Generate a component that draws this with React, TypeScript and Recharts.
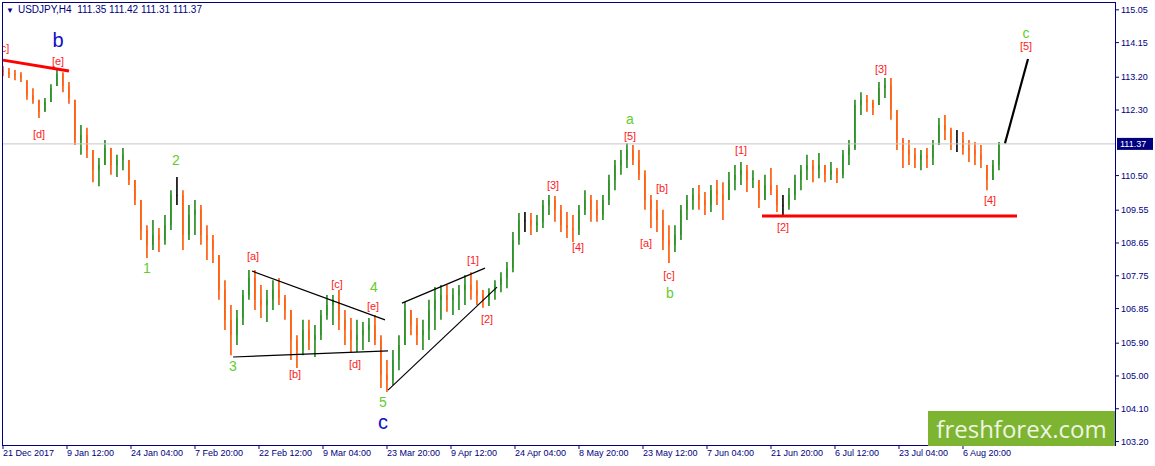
import { ComposedChart, Bar, Scatter, XAxis, YAxis, ReferenceLine } from 'recharts'

const NAVY = '#000080'
const UP = '#1f8a1a'
const DOWN = '#ff5500'
const RED = '#ff1a1a'
const GREEN = '#66cc2e'
const BLUE = '#1010c8'
const FONT = '"Liberation Sans", Arial, sans-serif'

// one point per trading day (6 H4 bars)
const highs = [
  113.51, 113.45, 113.40, 113.34, 113.12, 112.90, 112.58, 112.63, 113.01, 113.40,
  113.34, 113.07, 112.58, 111.89, 111.81, 111.20, 110.98, 111.48, 111.26, 111.07,
  111.26, 110.93, 110.38, 109.83, 109.14, 109.28, 109.06, 109.42, 110.10, 110.46,
  110.10, 109.69, 109.83, 109.69, 109.14, 108.87, 108.32, 107.63, 106.95, 106.81,
  107.36, 107.91, 107.91, 107.50, 107.36, 107.63, 107.69, 107.22, 106.81, 106.12,
  106.54, 106.54, 106.40, 106.81, 107.22, 107.22, 107.36, 106.81, 106.59, 106.54,
  106.48, 106.59, 106.67, 106.12, 105.44, 105.71, 106.12, 107.03, 106.81, 106.59,
  106.54, 107.09, 107.44, 107.50, 107.50, 107.41, 107.50, 107.77, 107.85, 107.63,
  107.36, 107.41, 107.63, 107.85, 108.13, 108.95, 109.47, 109.50, 109.47, 109.42,
  109.83, 109.97, 109.94, 109.69, 109.50, 109.42, 109.69, 110.10, 109.97, 109.83,
  109.97, 110.52, 110.93, 111.20, 111.39, 111.34, 111.20, 110.65, 109.97, 109.83,
  109.56, 109.14, 109.14, 109.69, 109.97, 110.16, 110.24, 110.05, 110.24, 110.38,
  110.32, 110.60, 110.79, 110.87, 110.79, 110.65, 110.38, 110.52, 110.71, 110.24,
  109.97, 110.16, 110.52, 110.79, 111.07, 110.93, 111.12, 110.79, 110.87, 110.71,
  111.20, 111.48, 112.58, 112.79, 112.71, 112.58, 113.07, 113.18, 113.18, 112.30,
  111.53, 111.48, 111.26, 111.20, 111.26, 111.48, 112.08, 112.16, 111.81, 111.75,
  111.70, 111.48, 111.42, 111.34, 110.79, 110.93, 111.42,
]

const lows = [
  113.23, 113.18, 113.12, 113.07, 112.58, 112.47, 112.08, 112.25, 112.52, 112.96,
  112.79, 112.47, 111.34, 111.07, 110.98, 110.32, 110.21, 110.79, 110.52, 110.46,
  110.65, 110.24, 109.69, 108.73, 108.24, 108.46, 108.40, 108.60, 109.01, 109.69,
  108.46, 108.73, 108.87, 108.60, 108.18, 108.10, 107.09, 106.26, 105.57, 105.85,
  106.40, 107.09, 106.81, 106.59, 106.48, 106.81, 106.95, 106.54, 105.44, 105.22,
  105.57, 105.71, 105.52, 105.99, 106.54, 106.40, 106.26, 105.85, 105.66, 105.66,
  105.71, 105.93, 105.85, 104.67, 104.56, 104.75, 105.16, 105.85, 106.12, 105.85,
  105.71, 105.99, 106.26, 106.54, 106.76, 106.67, 106.81, 106.95, 107.09, 106.95,
  106.87, 106.92, 107.09, 107.30, 107.41, 107.85, 108.60, 108.95, 108.87, 108.95,
  109.06, 109.42, 109.23, 108.95, 108.79, 108.68, 108.87, 109.42, 109.23, 109.23,
  109.28, 109.69, 110.10, 110.52, 110.71, 110.79, 110.38, 109.56, 109.06, 108.95,
  108.46, 108.10, 108.40, 108.73, 109.28, 109.56, 109.56, 109.42, 109.50, 109.69,
  109.28, 109.83, 110.10, 110.24, 110.05, 110.16, 109.61, 109.83, 109.97, 109.50,
  109.39, 109.56, 109.83, 110.10, 110.38, 110.32, 110.43, 110.32, 110.38, 110.30,
  110.43, 110.79, 111.20, 112.16, 112.25, 112.16, 112.44, 112.63, 112.03, 111.20,
  110.71, 110.79, 110.71, 110.65, 110.71, 110.79, 111.34, 111.48, 111.20, 111.15,
  111.07, 110.87, 110.79, 110.71, 110.10, 110.38, 110.65,
]

const closes = [
  113.34, 113.29, 113.26, 113.18, 112.71, 112.58, 112.25, 112.52, 112.90, 113.29,
  112.96, 112.63, 111.48, 111.61, 111.20, 110.65, 110.79, 111.26, 110.79, 110.93,
  111.07, 110.38, 109.83, 109.01, 108.60, 108.87, 108.73, 109.14, 109.97, 109.97,
  108.87, 109.42, 109.56, 108.87, 108.73, 108.46, 107.36, 106.54, 106.12, 106.59,
  107.22, 107.69, 107.09, 106.95, 107.09, 107.36, 107.14, 106.81, 105.99, 105.71,
  106.26, 105.99, 106.12, 106.67, 106.95, 107.09, 106.54, 106.26, 105.99, 106.12,
  106.26, 106.40, 105.99, 105.03, 104.89, 105.44, 105.85, 106.81, 106.40, 106.12,
  106.26, 106.81, 107.09, 107.22, 107.09, 107.22, 107.36, 107.50, 107.36, 107.22,
  107.09, 107.30, 107.50, 107.69, 107.96, 108.73, 109.28, 109.28, 109.14, 109.23,
  109.69, 109.83, 109.56, 109.14, 109.06, 109.01, 109.56, 109.83, 109.56, 109.42,
  109.83, 110.38, 110.79, 110.93, 111.20, 110.93, 110.52, 109.83, 109.56, 109.28,
  108.73, 108.60, 108.87, 109.56, 109.83, 109.97, 109.83, 109.69, 110.10, 109.97,
  109.83, 110.38, 110.52, 110.65, 110.38, 110.43, 109.83, 110.24, 110.10, 109.69,
  109.69, 109.97, 110.38, 110.65, 110.79, 110.65, 110.79, 110.52, 110.65, 110.52,
  111.07, 111.26, 112.44, 112.58, 112.52, 112.36, 112.90, 112.99, 112.30, 111.48,
  111.20, 111.07, 110.93, 111.07, 110.98, 111.34, 111.89, 111.75, 111.48, 111.48,
  111.26, 111.20, 111.07, 110.93, 110.38, 110.79, 111.37,
]

const firstOpen = 113.40
const lastPrice = 111.37
const barsPerPoint = 6

const priceTicks = [115.05, 114.15, 113.2, 112.3, 110.5, 109.55, 108.65, 107.75, 106.85, 105.9, 105.0, 104.1, 103.2]

const dateTicks = [1, 65, 129, 193, 257, 321, 385, 449, 513, 577, 641, 705, 769, 833, 897, 961]
const dateLabels = [
  '21 Dec 2017', '9 Jan 12:00', '24 Jan 04:00', '7 Feb 20:00', '22 Feb 12:00', '9 Mar 04:00',
  '23 Mar 20:00', '9 Apr 12:00', '24 Apr 04:00', '8 May 20:00', '23 May 12:00', '7 Jun 04:00',
  '21 Jun 20:00', '6 Jul 12:00', '23 Jul 04:00', '6 Aug 20:00',
]

// wave labels: [text, bar index, price, kind]
const waveLabels: [string, number, number, string][] = [
  ['c]', 3, 114.0, 'minor'], ['b', 56, 114.22, 'major'], ['[e]', 56, 113.65, 'minor'],
  ['[d]', 37, 111.64, 'minor'], ['2', 174, 110.93, 'wave'], ['1', 145, 107.96, 'wave'],
  ['[a]', 251, 108.29, 'minor'], ['3', 231, 105.27, 'wave'], ['[b]', 293, 105.05, 'minor'],
  ['[c]', 335, 107.52, 'minor'], ['4', 372, 107.44, 'wave'], ['[e]', 371, 106.92, 'minor'],
  ['[d]', 353, 105.33, 'minor'], ['5', 381, 104.29, 'wave'], ['c', 381, 103.74, 'major'],
  ['[1]', 471, 108.18, 'minor'], ['[2]', 485, 106.56, 'minor'], ['[3]', 551, 110.24, 'minor'],
  ['[4]', 576, 108.54, 'minor'], ['a', 628, 112.05, 'wave'], ['[5]', 628, 111.59, 'minor'],
  ['[b]', 660, 110.16, 'minor'], ['[a]', 644, 108.65, 'minor'], ['[c]', 667, 107.77, 'minor'],
  ['b', 668, 107.28, 'wave'], ['[1]', 739, 111.2, 'minor'], ['[2]', 781, 109.09, 'minor'],
  ['[3]', 879, 113.43, 'minor'], ['[4]', 988, 109.83, 'minor'], ['c', 1024, 114.41, 'wave'],
  ['[5]', 1024, 114.06, 'minor'],
]

// trend lines: [bar1, price1, bar2, price2]
const redLines = [
  [1, 113.67, 67, 113.37],
  [760, 109.39, 1015, 109.39],
]
const blackLines = [
  [250, 107.88, 383, 106.54],
  [231, 105.52, 386, 105.69],
  [400, 107.0, 483, 107.96],
  [386, 104.61, 495, 107.44],
]
const projection = [1003, 111.39, 1026, 113.7]

const candles = closes.map((close, i) => {
  const open = i === 0 ? firstOpen : closes[i - 1]
  return { t: 1 + i * barsPerPoint, open, high: highs[i], low: lows[i], close, range: [lows[i], highs[i]] }
})

const labels = waveLabels.map(([text, t, p, kind]) => ({ t, p, text, kind }))

function Candle(props: any) {
  const { x, y, width, height, payload } = props
  if (x == null || !payload) return null
  const top = Math.min(y, y + height)
  const h = Math.abs(height)
  const { open, close, high, low } = payload
  const clamp = (p: number) => Math.min(high, Math.max(low, p))
  const yAt = (p: number) => top + ((high - clamp(p)) / (high - low || 1)) * h
  const color = close > open ? UP : close < open ? DOWN : '#000'
  const mid = x + width / 2
  const bodyTop = yAt(Math.max(open, close))
  const bodyBottom = yAt(Math.min(open, close))
  return (
    <g>
      <line x1={mid} x2={mid} y1={top} y2={top + h} stroke={color} strokeWidth={1.6} />
      <rect x={x} y={bodyTop} width={width} height={Math.max(1, bodyBottom - bodyTop)} fill={color} />
    </g>
  )
}

function WaveLabel(props: any) {
  const { cx, cy, payload } = props
  if (cx == null || !payload) return null
  const style =
    payload.kind === 'major'
      ? { fill: BLUE, fontSize: 20 }
      : payload.kind === 'wave'
        ? { fill: GREEN, fontSize: 14 }
        : { fill: RED, fontSize: 11 }
  return (
    <text x={cx} y={cy} textAnchor="middle" dominantBaseline="central" fontFamily={FONT} {...style}>
      {payload.text}
    </text>
  )
}

function DateTick(props: any) {
  const { x, y, payload } = props
  const label = dateLabels[dateTicks.indexOf(payload.value)]
  return (
    <text x={x} y={y} dy="0.71em" textAnchor="start" fill={NAVY} fontSize={9} fontFamily={FONT}>
      {label}
    </text>
  )
}

function PriceTag(props: any) {
  const vb = props.viewBox
  if (!vb) return null
  const x = vb.x + vb.width + 2
  return (
    <g>
      <rect x={x} y={vb.y - 6} width={36} height={12} fill={NAVY} />
      <text x={x + 3} y={vb.y} dominantBaseline="central" fill="#fff" fontSize={9} fontFamily={FONT}>
        {lastPrice.toFixed(2)}
      </text>
    </g>
  )
}

export default function App() {
  return (
    <div style={{ position: 'relative', width: 1155, height: 466, background: '#fff', fontFamily: FONT }}>
      <style>{'body{margin:0}'}</style>
      <ComposedChart width={1155} height={466} data={candles} margin={{ top: 2, right: 0, bottom: 0, left: 2 }}>
        <XAxis
          type="number"
          dataKey="t"
          domain={[0, 1113]}
          allowDataOverflow
          ticks={dateTicks}
          interval={0}
          height={21}
          axisLine={false}
          tickLine={{ stroke: NAVY }}
          tickSize={4}
          tickMargin={1}
          tick={<DateTick />}
        />
        <YAxis
          orientation="right"
          width={40}
          domain={[103.105, 115.265]}
          allowDataOverflow
          ticks={priceTicks}
          interval={0}
          axisLine={false}
          tickLine={{ stroke: NAVY }}
          tickSize={4}
          tickMargin={2}
          tick={{ fill: NAVY, fontSize: 9, fontFamily: FONT }}
          tickFormatter={(v: number) => v.toFixed(2)}
        />
        <ReferenceLine y={lastPrice} stroke="#c8c8c8" label={<PriceTag />} />
        <Bar dataKey="range" barSize={5} shape={<Candle />} isAnimationActive={false} />
        {redLines.map(([x1, y1, x2, y2], i) => (
          <ReferenceLine key={'r' + i} segment={[{ x: x1, y: y1 }, { x: x2, y: y2 }]} stroke="#ff0000" strokeWidth={3} />
        ))}
        {blackLines.map(([x1, y1, x2, y2], i) => (
          <ReferenceLine key={'b' + i} segment={[{ x: x1, y: y1 }, { x: x2, y: y2 }]} stroke="#000" strokeWidth={1.2} />
        ))}
        <ReferenceLine
          segment={[{ x: projection[0], y: projection[1] }, { x: projection[2], y: projection[3] }]}
          stroke="#000"
          strokeWidth={2.2}
        />
        <Scatter data={labels} dataKey="p" shape={<WaveLabel />} isAnimationActive={false} />
      </ComposedChart>

      <div
        style={{
          position: 'absolute', left: 2, top: 2, width: 1114, height: 444,
          border: `1px solid ${NAVY}`, boxSizing: 'border-box', pointerEvents: 'none',
        }}
      />
      <div style={{ position: 'absolute', left: 6, top: 4, fontSize: 10, color: NAVY, whiteSpace: 'pre', lineHeight: '12px' }}>
        <span style={{ fontSize: 8, marginRight: 4 }}>▼</span>USDJPY,H4  111.35 111.42 111.31 111.37
      </div>
      <div
        style={{
          position: 'absolute', left: 928, top: 411, width: 187, height: 35, background: '#7db431',
          color: '#eef5e2', fontFamily: '"Open Sans", sans-serif', fontSize: 24, lineHeight: '35px', textAlign: 'center',
        }}
      >
        freshforex.com
      </div>
    </div>
  )
}
